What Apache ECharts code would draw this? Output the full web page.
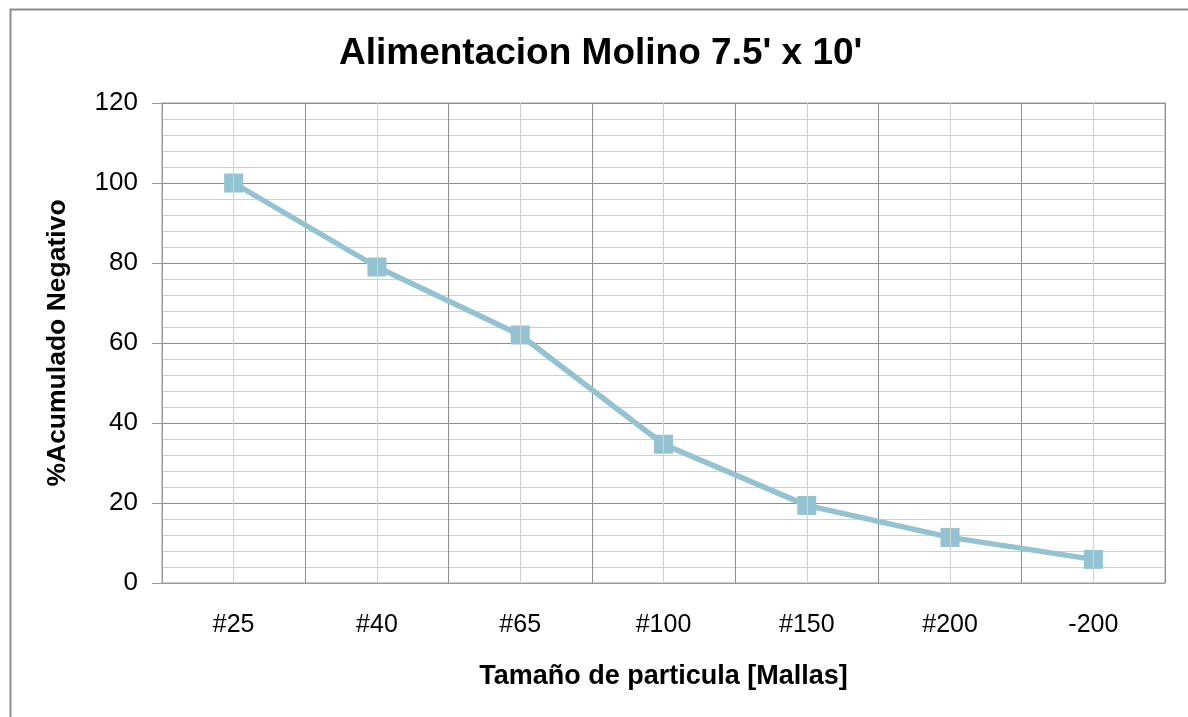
<!DOCTYPE html>
<html>
<head>
<meta charset="utf-8">
<script src="https://cdn.jsdelivr.net/npm/echarts@6/dist/echarts.min.js"></script>
<style>html,body{margin:0;padding:0;background:#fff}#c{width:1188px;height:717px}</style>
</head>
<body>
<div id="c"></div>
<script>
var categories = ['#25', '#40', '#65', '#100', '#150', '#200', '-200'];
var values = [100, 79, 62, 34.7, 19.4, 11.4, 5.9];
var yTicks = { min: 0, max: 120, interval: 20 };

var chart = echarts.init(document.getElementById('c'));
var F = 'Liberation Sans, Arial, sans-serif';
chart.setOption({
  animation: false,
  backgroundColor: '#fff',
  graphic: [{
    type: 'rect', left: 8, top: 7, shape: { width: 1200, height: 730 },
    style: { fill: 'none', stroke: '#8c8c8c', lineWidth: 2 }, silent: true, z: -10
  }],
  title: {
    text: "Alimentacion Molino 7.5' x 10'",
    left: 334, top: 30,
    textStyle: { fontFamily: F, fontSize: 37, fontWeight: 'bold', color: '#000' }
  },
  grid: { left: 162, right: 23, top: 103, bottom: 134, show: true, borderColor: '#9a9a9a', borderWidth: 1 },
  xAxis: {
    type: 'category', data: categories, boundaryGap: true,
    name: 'Tamaño de particula [Mallas]', nameLocation: 'middle', nameGap: 80,
    nameTextStyle: { fontFamily: F, fontSize: 27, fontWeight: 'bold', color: '#000' },
    axisLine: { lineStyle: { color: '#9a9a9a', width: 1 } },
    axisTick: { show: false },
    axisLabel: { fontFamily: F, fontSize: 25, color: '#000', margin: 30 },
    splitLine: { show: true, lineStyle: { color: '#8e8e8e', width: 1 } }
  },
  yAxis: {
    type: 'value', min: yTicks.min, max: yTicks.max, interval: yTicks.interval,
    name: '%Acumulado Negativo', nameLocation: 'middle', nameGap: 91,
    nameTextStyle: { fontFamily: F, fontSize: 26.5, fontWeight: 'bold', color: '#000' },
    axisLine: { show: true, lineStyle: { color: '#9a9a9a', width: 1 } },
    axisTick: { show: true, inside: false, length: 10, lineStyle: { color: '#9a9a9a' } },
    minorTick: { show: false, splitNumber: 5 },
    axisLabel: { fontFamily: F, fontSize: 26, color: '#000', margin: 24 },
    splitLine: { show: true, lineStyle: { color: '#8e8e8e', width: 1 } },
    minorSplitLine: { show: true, lineStyle: { color: '#cfcfcf', width: 1 } }
  },
  series: [
    {
      type: 'line', data: [], z: 1, silent: true,
      markLine: {
        silent: true, symbol: 'none', animation: false,
        label: { show: false },
        lineStyle: { color: '#cfcfcf', type: 'solid', width: 1 },
        data: categories.map(function (c) { return { xAxis: c }; })
      }
    },
    {
      type: 'line', data: values, z: 3,
      symbol: 'rect', symbolSize: 19,
      lineStyle: { color: '#93C3D3', width: 5.5 },
      itemStyle: { color: '#93C3D3' }
    }
  ]
});
</script>
</body>
</html>
